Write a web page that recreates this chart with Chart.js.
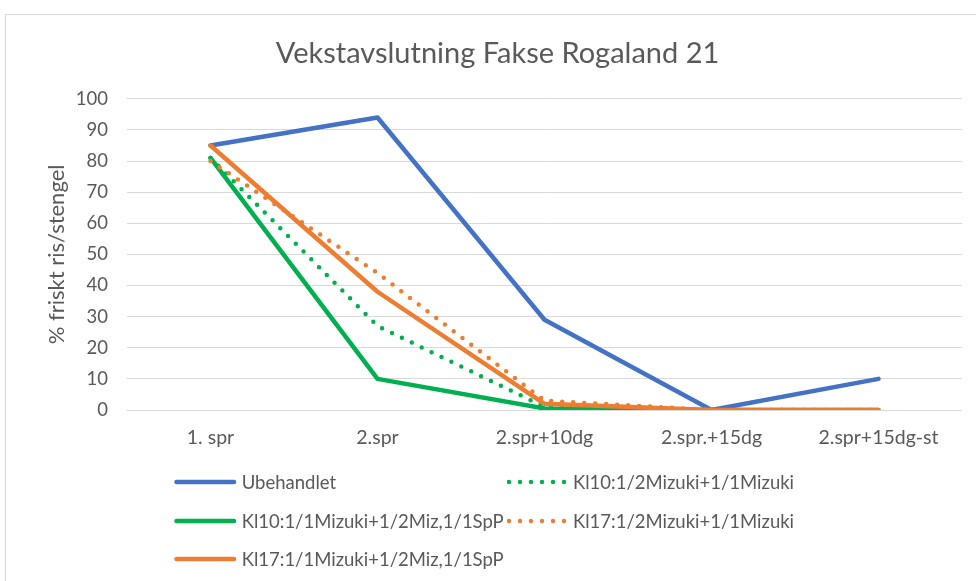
<!DOCTYPE html>
<html>
<head>
<meta charset="utf-8">
<script src="https://cdn.jsdelivr.net/npm/chart.js@4"></script>
<style>
  html, body { margin:0; padding:0; background:#fff; width:976px; height:581px; overflow:hidden; }
  #frame { position:absolute; left:5px; top:14px; width:1200px; height:800px; border:1px solid #d9d9d9; box-sizing:border-box; }
  #c { position:absolute; left:0; top:0; }
  .lg { position:absolute; font-family:Lato, sans-serif; font-size:18.5px; color:#595959; white-space:nowrap; line-height:20px; height:20px; }
  .lg svg { position:absolute; top:5px; }
  .lg span { position:absolute; top:0; }
</style>
</head>
<body>
<div id="frame"></div>
<canvas id="c" width="976" height="581"></canvas>
<div id="legend"></div>
<script>
const TITLE = 'Vekstavslutning Fakse Rogaland 21';
const Y_TITLE = '% friskt ris/stengel';
const categories = ['1. spr', '2.spr', '2.spr+10dg', '2.spr.+15dg', '2.spr+15dg-st'];
const seriesNames = [
  'Ubehandlet',
  'Kl10:1/2Mizuki+1/1Mizuki',
  'Kl10:1/1Mizuki+1/2Miz,1/1SpP',
  'Kl17:1/2Mizuki+1/1Mizuki',
  'Kl17:1/1Mizuki+1/2Miz,1/1SpP'
];
const ubehandlet = [85, 94, 29, 0, 10];
const kl10Half   = [81, 27, 1, 0, 0];
const kl10Full   = [81, 10, 0.5, 0, 0];
const kl17Half   = [80, 44, 3, 0, 0];
const kl17Full   = [85, 38, 2, 0, 0];
const seriesValues = [ubehandlet, kl10Half, kl10Full, kl17Half, kl17Full];
const yTicks = [0, 10, 20, 30, 40, 50, 60, 70, 80, 90, 100];

const colors = ['#4472C4', '#00B050', '#00B050', '#ED7D31', '#ED7D31'];
const dotted = [false, true, false, true, false];
const TXT = '#595959';

const datasets = seriesNames.map((name, i) => ({
  label: name,
  data: seriesValues[i],
  borderColor: colors[i],
  backgroundColor: colors[i],
  borderWidth: 4.5,
  borderDash: dotted[i] ? [0, 11] : [],
  borderCapStyle: 'round',
  borderJoinStyle: 'round',
  pointRadius: 0,
  pointHoverRadius: 0,
  tension: 0,
  fill: false,
  order: seriesNames.length - i
}));

new Chart(document.getElementById('c'), {
  type: 'line',
  data: { labels: categories, datasets },
  options: {
    responsive: false,
    animation: false,
    events: [],
    layout: { padding: { left: 33, right: 14, top: 0, bottom: 131 } },
    plugins: {
      legend: { display: false },
      tooltip: { enabled: false },
      title: {
        display: true, text: TITLE, color: TXT,
        font: { family: 'Lato', size: 29, weight: 'normal' },
        padding: { top: 36, bottom: 28 }
      }
    },
    scales: {
      x: {
        offset: true,
        grid: { display: false },
        border: { display: false },
        ticks: { color: TXT, font: { family: 'Lato', size: 19.5 }, padding: 8, maxRotation: 0, autoSkip: false },
        afterFit: s => { s.height = 40; }
      },
      y: {
        min: 0, max: 100,
        afterBuildTicks: s => { s.ticks = yTicks.map(v => ({ value: v })); },
        grid: { color: '#d9d9d9', lineWidth: 1, drawTicks: false },
        border: { display: false },
        ticks: { color: TXT, font: { family: 'Lato', size: 18.5 }, padding: 19 },
        title: {
          display: true, text: Y_TITLE, color: TXT,
          font: { family: 'Lato', size: 22, weight: 'normal' },
          padding: { top: 11, bottom: 0 }
        },
        afterFit: s => { s.width = 94; }
      }
    }
  }
});

// HTML legend, two columns, row-wise order like the original
const legend = document.getElementById('legend');
const colX = [174, 507];
const textX = [241.7, 573];
const rowY = [482, 520.5, 559];
seriesNames.forEach((name, i) => {
  const col = i % 2, row = Math.floor(i / 2);
  const d = document.createElement('div');
  d.className = 'lg';
  d.style.left = colX[col] + 'px';
  d.style.top = (rowY[row] - 10) + 'px';
  const svgNS = 'http://www.w3.org/2000/svg';
  const svg = document.createElementNS(svgNS, 'svg');
  svg.setAttribute('width', '66');
  svg.setAttribute('height', '10');
  svg.style.left = '0px';
  const ln = document.createElementNS(svgNS, 'line');
  ln.setAttribute('y1', '5'); ln.setAttribute('y2', '5');
  ln.setAttribute('stroke', colors[i]);
  ln.setAttribute('stroke-width', '4.5');
  ln.setAttribute('stroke-linecap', 'round');
  if (dotted[i]) {
    ln.setAttribute('x1', '2'); ln.setAttribute('x2', '58');
    ln.setAttribute('stroke-dasharray', '0 11');
  } else {
    ln.setAttribute('x1', '2.5'); ln.setAttribute('x2', '60');
  }
  svg.appendChild(ln);
  d.appendChild(svg);
  const sp = document.createElement('span');
  sp.textContent = name;
  sp.style.left = (textX[col] - colX[col]) + 'px';
  d.appendChild(sp);
  legend.appendChild(d);
});
</script>
</body>
</html>
